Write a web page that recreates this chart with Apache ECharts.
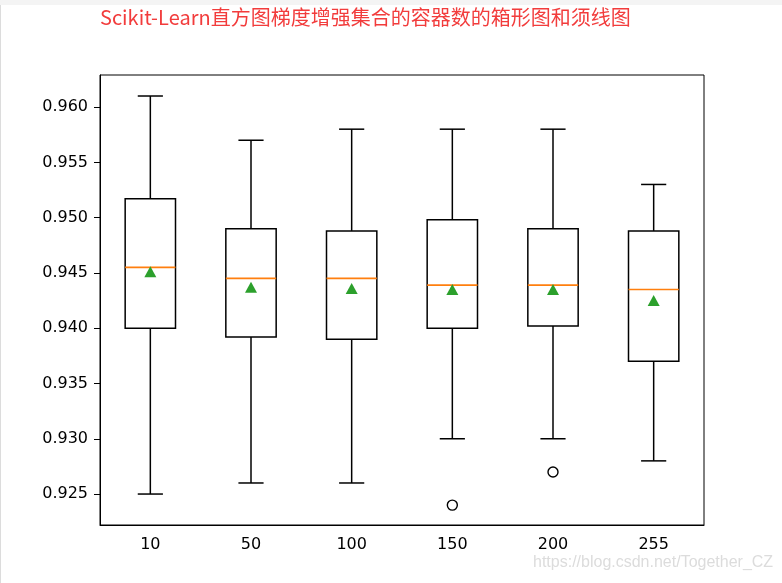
<!DOCTYPE html>
<html>
<head>
<meta charset="utf-8">
<script src="https://cdn.jsdelivr.net/npm/echarts@6/dist/echarts.min.js"></script>
<style>
  html, body { margin: 0; padding: 0; background: #fff; }
  #main { width: 782px; height: 583px; }
</style>
</head>
<body>
<div id="main"></div>
<script>
// 容器数（类别）
var categories = ['10', '50', '100', '150', '200', '255'];
// 箱线图五数
var lowWhisker  = [0.925, 0.926, 0.926, 0.930, 0.930, 0.928];
var q1          = [0.9400, 0.9392, 0.9390, 0.9400, 0.9402, 0.9370];
var median      = [0.9455, 0.9445, 0.9445, 0.9439, 0.9439, 0.9435];
var q3          = [0.9517, 0.9490, 0.9488, 0.9498, 0.9490, 0.9488];
var highWhisker = [0.961, 0.957, 0.958, 0.958, 0.958, 0.953];
// 均值（绿色三角）
var means = [0.9451, 0.9437, 0.9436, 0.9435, 0.9435, 0.9425];
// 离群点 [类别序号, 值]
var outlierIdx = [3, 4];
var outlierVal = [0.924, 0.927];
// y 轴刻度
var yTicks = [0.925, 0.930, 0.935, 0.940, 0.945, 0.950, 0.955, 0.960];

var boxData = categories.map(function (c, i) {
  return [i, lowWhisker[i], q1[i], median[i], q3[i], highWhisker[i]];
});
var meanData = categories.map(function (c, i) { return [i, means[i]]; });
var outlierData = outlierIdx.map(function (k, i) { return [k, outlierVal[i]]; });

var lineStyle = { stroke: '#000', lineWidth: 1.5, fill: null };

function renderBox(params, api) {
  var x = api.value(0);
  var pLow = api.coord([x, api.value(1)]);
  var pQ1 = api.coord([x, api.value(2)]);
  var pMed = api.coord([x, api.value(3)]);
  var pQ3 = api.coord([x, api.value(4)]);
  var pHigh = api.coord([x, api.value(5)]);
  var band = api.size([1, 0])[0];
  var bw = band * 0.5;
  var cw = band * 0.25;
  var cx = pQ1[0];
  return {
    type: 'group',
    children: [
      { type: 'rect', shape: { x: cx - bw / 2, y: pQ3[1], width: bw, height: pQ1[1] - pQ3[1] },
        style: { stroke: '#000', lineWidth: 1.5, fill: '#fff' } },
      { type: 'line', shape: { x1: cx, y1: pQ1[1], x2: cx, y2: pLow[1] }, style: lineStyle },
      { type: 'line', shape: { x1: cx, y1: pQ3[1], x2: cx, y2: pHigh[1] }, style: lineStyle },
      { type: 'line', shape: { x1: cx - cw / 2, y1: pLow[1], x2: cx + cw / 2, y2: pLow[1] }, style: lineStyle },
      { type: 'line', shape: { x1: cx - cw / 2, y1: pHigh[1], x2: cx + cw / 2, y2: pHigh[1] }, style: lineStyle },
      { type: 'line', shape: { x1: cx - bw / 2, y1: pMed[1], x2: cx + bw / 2, y2: pMed[1] },
        style: { stroke: '#ff7f0e', lineWidth: 1.7 } }
    ]
  };
}

var chart = echarts.init(document.getElementById('main'));
chart.setOption({
  backgroundColor: '#fff',
  animation: false,
  title: {
    text: 'Scikit-Learn直方图梯度增强集合的容器数的箱形图和须线图',
    left: 100,
    top: 7,
    padding: 0,
    textStyle: { color: '#f23c3c', fontSize: 20, fontWeight: 'normal', fontFamily: 'Noto Sans CJK SC' }
  },
  graphic: [
    { type: 'rect', left: 0, top: 0, shape: { width: 782, height: 5 }, style: { fill: '#f4f4f4' }, silent: true },
    { type: 'line', shape: { x1: 0.5, y1: 5, x2: 0.5, y2: 583 }, style: { stroke: '#dcdcdc', lineWidth: 1 }, silent: true },
    { type: 'text', left: 533, top: 555,
      style: { text: 'https://blog.csdn.net/Together_CZ', fill: '#dcdcdc', fontSize: 16, fontFamily: 'Liberation Sans' } }
  ],
  grid: {
    left: 100, right: 78, top: 75, bottom: 58,
    show: true, borderColor: '#000', borderWidth: 1
  },
  xAxis: {
    type: 'category',
    data: categories,
    boundaryGap: true,
    axisLine: { lineStyle: { color: '#000', width: 1 } },
    axisTick: { alignWithLabel: true, length: 6, lineStyle: { color: '#000' } },
    axisLabel: { color: '#000', fontSize: 16, fontFamily: 'DejaVu Sans', margin: 12 },
    splitLine: { show: false }
  },
  yAxis: {
    type: 'value',
    min: 0.9222,
    max: 0.9629,
    axisLine: { show: true, lineStyle: { color: '#000', width: 1 } },
    axisTick: { show: true, length: 6, customValues: yTicks, lineStyle: { color: '#000' } },
    axisLabel: {
      color: '#000', fontSize: 16, fontFamily: 'DejaVu Sans', margin: 12,
      customValues: yTicks,
      formatter: function (v) { return v.toFixed(3); }
    },
    splitLine: { show: false }
  },
  series: [
    {
      type: 'custom',
      renderItem: renderBox,
      data: boxData,
      encode: { x: 0, y: [1, 2, 3, 4, 5] },
      z: 2
    },
    {
      type: 'scatter',
      data: meanData,
      symbol: 'triangle',
      symbolSize: [12, 11],
      itemStyle: { color: '#2ca02c', opacity: 1 },
      z: 4
    },
    {
      type: 'scatter',
      data: outlierData,
      symbol: 'circle',
      symbolSize: 10,
      itemStyle: { color: 'rgba(0,0,0,0)', borderColor: '#000', borderWidth: 1.4, opacity: 1 },
      z: 4
    }
  ]
});
</script>
</body>
</html>
